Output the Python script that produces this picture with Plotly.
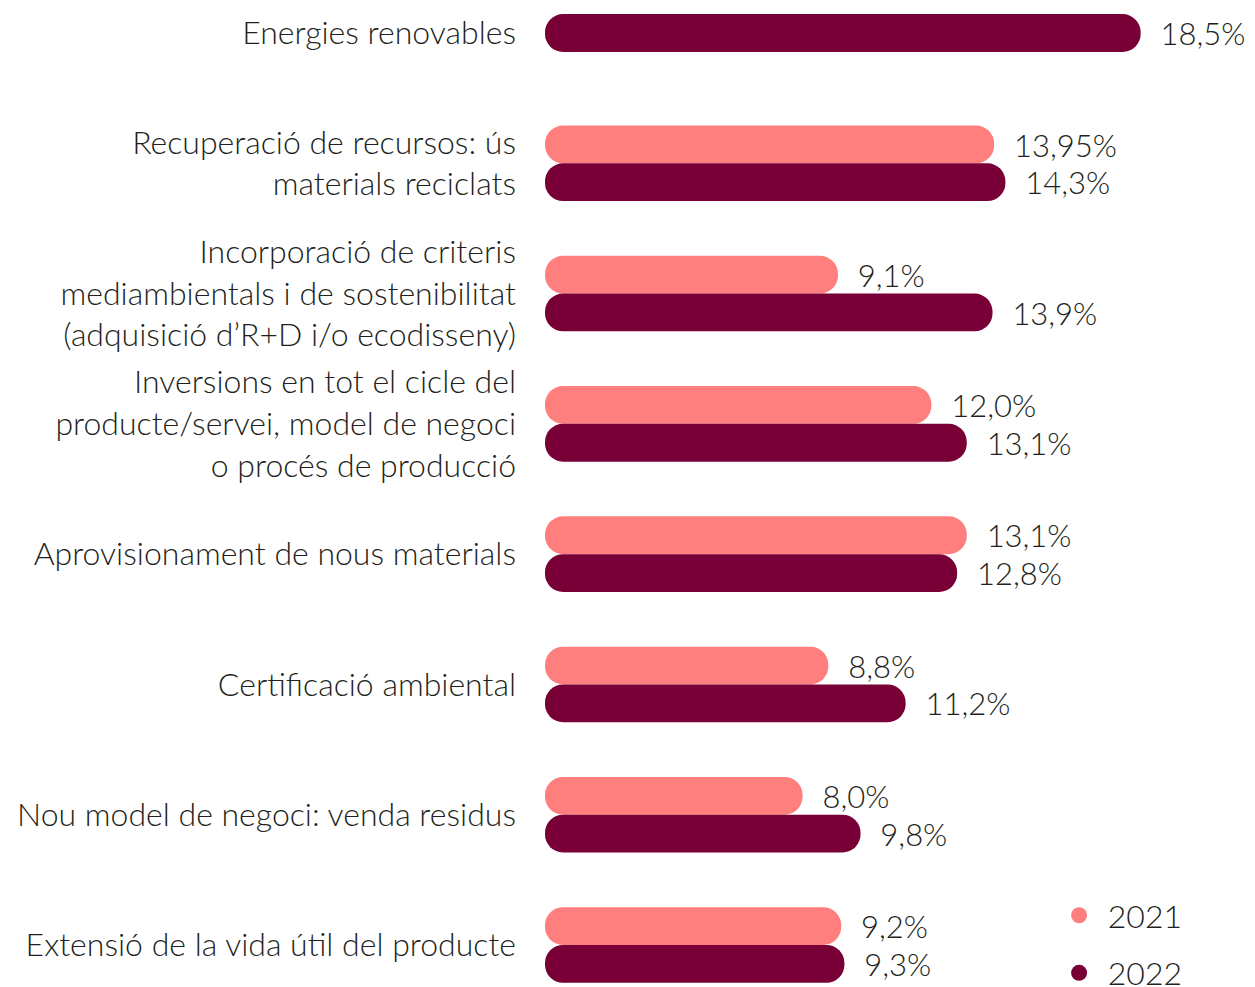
import plotly.graph_objects as go

categories = [
    "Energies renovables",
    "Recuperació de recursos: ús<br>materials reciclats",
    "Incorporació de criteris<br>mediambientals i de sostenibilitat<br>(adquisició d’R+D i/o ecodisseny)",
    "Inversions en tot el cicle del<br>producte/servei, model de negoci<br>o procés de producció",
    "Aprovisionament de nous materials",
    "Certificació ambiental",
    "Nou model de negoci: venda residus",
    "Extensió de la vida útil del producte",
]
values_2021 = [None, 13.95, 9.1, 12.0, 13.1, 8.8, 8.0, 9.2]
values_2022 = [18.5, 14.3, 13.9, 13.1, 12.8, 11.2, 9.8, 9.3]
labels_2021 = ["", "13,95%", "9,1%", "12,0%", "13,1%", "8,8%", "8,0%", "9,2%"]
labels_2022 = ["18,5%", "14,3%", "13,9%", "13,1%", "12,8%", "11,2%", "9,8%", "9,3%"]

C2021 = "#FF7F7F"
C2022 = "#780037"
TXT = "#231F20"
FONT = "Lato"
FW = 300
FS = 32

W = 0.29
XMAX = 22.3
pad = "\u00a0\u00a0"

off_2021 = [-W] * len(categories)
off_2022 = [(-W / 2 if v is None else 0) for v in values_2021]

fig = go.Figure()


def add_series(vals, labels, offs, col, name):
    # explicit zero base -> both ends of each bar are rounded (pill shape)
    fig.add_trace(go.Bar(
        y=categories, x=vals, base=[0] * len(vals), orientation="h", name=name,
        marker=dict(color=col, cornerradius="50%", line=dict(width=0)),
        width=W, offset=offs,
        text=[pad + t if t else "" for t in labels], textposition="outside",
        textfont=dict(family=FONT, size=FS, color=TXT, weight=FW),
        cliponaxis=False, showlegend=False,
    ))


add_series(values_2021, labels_2021, off_2021, C2021, "2021")
add_series(values_2022, labels_2022, off_2022, C2022, "2022")

# legend entries with round markers
for nm, col in [("2021", C2021), ("2022", C2022)]:
    fig.add_trace(go.Scatter(
        x=[None], y=[None], mode="markers", name="\u00a0" + nm, legendgroup=nm,
        marker=dict(symbol="circle", size=27, color=col),
    ))

fig.update_layout(
    width=1255, height=987,
    margin=dict(l=537, r=0, t=0, b=0, autoexpand=False),
    paper_bgcolor="white", plot_bgcolor="white",
    barmode="overlay",
    font=dict(family=FONT, size=FS, color=TXT, weight=FW),
    xaxis=dict(range=[0, XMAX], visible=False, fixedrange=True),
    yaxis=dict(
        type="category", range=[7.384, -0.192], showgrid=False, zeroline=False,
        showline=False, ticks="", ticklabelstandoff=28,
        tickfont=dict(family=FONT, size=FS, color=TXT, weight=FW),
    ),
    legend=dict(
        x=0.716, y=-0.006, xanchor="left", yanchor="bottom",
        bgcolor="rgba(0,0,0,0)", traceorder="grouped", tracegroupgap=13,
        font=dict(family=FONT, size=FS, color=TXT, weight=FW),
        itemsizing="trace",
    ),
    showlegend=True,
)

fig.write_html("out.html")
